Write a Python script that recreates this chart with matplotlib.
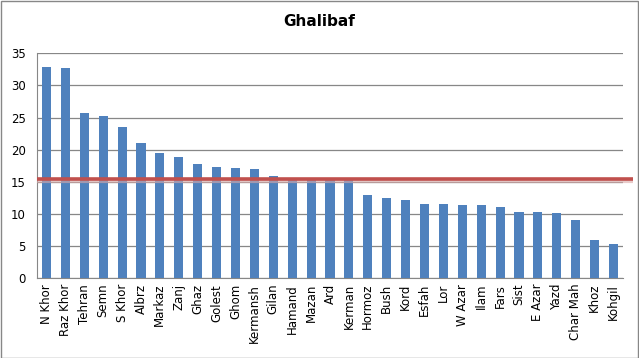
import matplotlib
matplotlib.use("Agg")
import matplotlib.pyplot as plt
from matplotlib.patches import Rectangle
import numpy as np

categories = ["N Khor", "Raz Khor", "Tehran", "Semn", "S Khor", "Albrz", "Markaz",
              "Zanj", "Ghaz", "Golest", "Ghom", "Kermansh", "Gilan", "Hamand",
              "Mazan", "Ard", "Kerman", "Hormoz", "Bush", "Kord", "Esfah", "Lor",
              "W Azar", "Ilam", "Fars", "Sist", "E Azar", "Yazd", "Char Mah",
              "Khoz", "Kohgil"]
values = [32.9, 32.7, 25.7, 25.2, 23.6, 21.1, 19.5, 18.9, 17.8, 17.3, 17.2, 17.0,
          15.9, 15.5, 15.5, 15.4, 15.4, 13.0, 12.5, 12.2, 11.6, 11.6, 11.45, 11.45,
          11.1, 10.35, 10.35, 10.2, 9.1, 6.0, 5.4]
threshold = 15.45
yticks = [0, 5, 10, 15, 20, 25, 30, 35]

plt.rcParams['font.family'] = ['DejaVu Sans']

fig = plt.figure(figsize=(6.39, 3.58), dpi=100)
ax = fig.add_axes([37/639, 1 - 278.3/358, (623-37)/639, (278.3-53.3)/358])

x = np.arange(len(categories))
ax.bar(x, values, width=0.48, color="#4F81BD", zorder=3)

ax.set_xlim(-0.5, len(categories) - 0.5)
ax.set_ylim(0, 35)
ax.set_yticks(yticks)
ax.set_yticklabels([str(t) for t in yticks], fontsize=8.5)
ax.set_xticks(x)
ax.set_xticklabels(categories, rotation=90, fontsize=8.5)
ax.tick_params(axis='x', length=0, pad=4)
ax.tick_params(axis='y', length=0, pad=8)

ax.grid(axis='y', color="#878787", linewidth=0.9, zorder=0)
for s in ['top', 'right']:
    ax.spines[s].set_visible(False)
ax.spines['left'].set_color("#878787")
ax.spines['bottom'].set_color("#878787")

# threshold line with soft shadow, extending slightly past the plot area
ax.plot([0, 1.017], [threshold - 0.25, threshold - 0.25], transform=ax.get_yaxis_transform(),
        color="#D9A9A8", linewidth=3.0, alpha=0.6, clip_on=False, zorder=4,
        solid_capstyle='butt')
ax.plot([0, 1.017], [threshold, threshold], transform=ax.get_yaxis_transform(),
        color="#C0504D", linewidth=2.6, clip_on=False, zorder=5, solid_capstyle='butt')

fig.text(0.5, 1 - 22/358, "Ghalibaf", ha='center', va='center', fontsize=11, fontweight='bold')

fig.patches.append(Rectangle((0.5/639, 0.5/358), 637/639, 356.5/358, transform=fig.transFigure,
                             fill=False, edgecolor="#878787", linewidth=1.0))

fig.savefig("out.png", dpi=100)
